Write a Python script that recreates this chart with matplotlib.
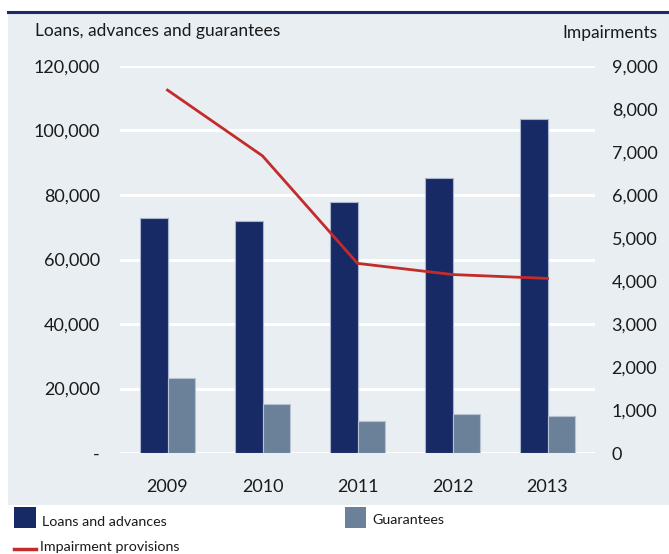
import matplotlib
matplotlib.use("Agg")
import matplotlib.pyplot as plt
from matplotlib.patches import Rectangle
from matplotlib.lines import Line2D
import numpy as np

years = ["2009", "2010", "2011", "2012", "2013"]
loans = [73000, 72000, 77900, 85200, 103600]
guarantees = [23300, 15200, 9800, 12100, 11600]
impairments = [8440, 6910, 4410, 4150, 4060]

left_ticks = [0, 20000, 40000, 60000, 80000, 100000, 120000]
left_labels = ["-", "20,000", "40,000", "60,000", "80,000", "100,000", "120,000"]
right_ticks = [0, 1000, 2000, 3000, 4000, 5000, 6000, 7000, 8000, 9000]

navy = "#172a66"
slate = "#6b8099"
red = "#c42b2b"
panel = "#e8eef1"
txt = "#1a1a1a"

plt.rcParams['font.family'] = ['Lato', 'DejaVu Sans']

W, H = 669, 554
fig = plt.figure(figsize=(W / 100, H / 100), dpi=100)

# grey panel and navy rule on top
fig.patches.append(Rectangle((8 / W, 1 - 505 / H), 1 - 8 / W, (505 - 13) / H,
                             transform=fig.transFigure, facecolor=panel, edgecolor="none", zorder=-5))
fig.add_artist(Line2D([8 / W, 1], [1 - 12 / H, 1 - 12 / H], transform=fig.transFigure,
                      color="#1b2a6b", lw=2.2))

ax = fig.add_axes([120 / W, 1 - 453 / H, 475 / W, 387 / H])
ax.set_facecolor("none")
x = np.arange(len(years))
w = 0.29
ax.bar(x - w / 2, loans, w, color=navy, edgecolor="#a9b5cb", lw=0.8, zorder=3)
ax.bar(x + w / 2, guarantees, w, color=slate, edgecolor="#b8c3d1", lw=0.8, zorder=3)
ax.set_xlim(-0.5, 4.5)
ax.set_ylim(0, 120000)
ax.set_yticks(left_ticks)
ax.set_yticklabels(left_labels)
ax.set_xticks(x)
ax.set_xticklabels(years)
ax.grid(axis="y", color="white", lw=2.2, zorder=1)
ax.set_axisbelow(True)
ax.tick_params(axis="y", length=0, pad=14.5, labelsize=13, labelcolor=txt)
ax.tick_params(axis="x", length=0, pad=19, labelsize=13, labelcolor=txt)
for s in ax.spines.values():
    s.set_visible(False)

ax2 = ax.twinx()
ax2.plot(x, impairments, color=red, lw=2, zorder=4)
ax2.set_ylim(0, 9000)
ax2.set_yticks(right_ticks)
ax2.set_yticklabels([f"{v:,}" for v in right_ticks])
ax2.tick_params(axis="y", length=0, pad=12, labelsize=13, labelcolor=txt)
for s in ax2.spines.values():
    s.set_visible(False)

fig.text(35 / W, 1 - 31 / H, "Loans, advances and guarantees", fontsize=12.5, color=txt,
         ha="left", va="center")
fig.text(657 / W, 1 - 33 / H, "Impairments", fontsize=12.5, color=txt,
         ha="right", va="center")

# legend
fig.patches.append(Rectangle((14 / W, 1 - 528 / H), 22 / W, 21 / H,
                             transform=fig.transFigure, facecolor=navy, edgecolor="none"))
fig.text(42 / W, 1 - 522 / H, "Loans and advances", fontsize=10.3, color=txt, ha="left", va="center")
fig.patches.append(Rectangle((345 / W, 1 - 528 / H), 21 / W, 21 / H,
                             transform=fig.transFigure, facecolor=slate, edgecolor="none"))
fig.text(372 / W, 1 - 520 / H, "Guarantees", fontsize=10.3, color=txt, ha="left", va="center")
fig.add_artist(Line2D([14 / W, 36 / W], [1 - 549 / H, 1 - 549 / H], transform=fig.transFigure,
                      color=red, lw=2.5))
fig.text(40 / W, 1 - 547 / H, "Impairment provisions", fontsize=10.3, color=txt, ha="left", va="center")

fig.savefig("out.png", dpi=100)
